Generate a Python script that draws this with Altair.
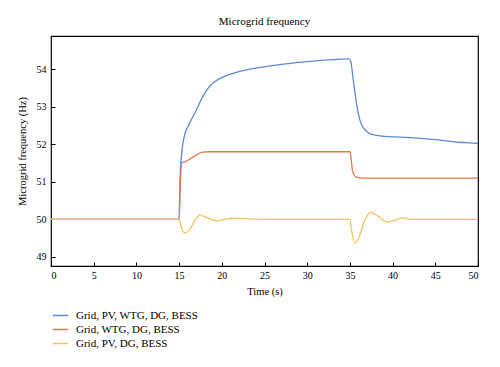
import altair as alt
import pandas as pd

series_names = ["Grid, PV, WTG, DG, BESS", "Grid, WTG, DG, BESS", "Grid, PV, DG, BESS"]
series_colors = ["#5b8ad6", "#e8754a", "#f6c15a"]

blue_t = [0, 15, 15.1, 15.3, 15.6, 16.1, 16.9, 17.8, 18.6, 19.4, 20.5, 22, 23.3, 25, 27.2, 29, 31, 33, 34.9,
          35.1, 35.4, 35.7, 36.0, 36.4, 36.8, 37.2, 38, 39, 40.9, 43, 45, 47, 50]
blue_f = [50, 50, 51.0, 51.75, 52.2, 52.5, 52.85, 53.28, 53.55, 53.7, 53.82, 53.93, 54.0, 54.06, 54.13, 54.18,
          54.22, 54.25, 54.27, 54.2, 53.7, 53.2, 52.8, 52.5, 52.38, 52.3, 52.24, 52.21, 52.19, 52.16, 52.12, 52.07, 52.02]

orange_t = [0, 15, 15.15, 15.3, 15.7, 16.5, 17.2, 17.8, 18.5, 35, 35.15, 35.3, 35.6, 36, 36.5, 50]
orange_f = [50, 50, 51.0, 51.52, 51.53, 51.64, 51.74, 51.79, 51.8, 51.8, 51.6, 51.3, 51.15, 51.11, 51.1, 51.1]

yellow_t = [0, 15, 15.3, 15.7, 16.2, 16.8, 17.45, 18.2, 19.4, 20.3, 21.3, 22.5, 25, 35, 35.2, 35.6, 36.1, 36.7,
            37.4, 38.2, 39.3, 40.2, 41.2, 42.2, 50]
yellow_f = [50, 50, 49.75, 49.64, 49.72, 49.95, 50.12, 50.05, 49.96, 50.0, 50.03, 50.02, 50, 50, 49.7, 49.37,
            49.55, 49.95, 50.18, 50.1, 49.93, 49.97, 50.04, 50.0, 50.0]

rows = []
for name, ts, fs in zip(series_names, [blue_t, orange_t, yellow_t], [blue_f, orange_f, yellow_f]):
    for t, f in zip(ts, fs):
        rows.append({"t": t, "f": f, "series": name})
df = pd.DataFrame(rows)

FONT = "Liberation Serif"

chart = alt.Chart(df).mark_line(strokeWidth=1.3, interpolate="monotone").encode(
    x=alt.X("t:Q", title="Time (s)",
            scale=alt.Scale(domain=[0, 50], nice=False),
            axis=alt.Axis(values=list(range(0, 51, 5)), grid=False, domain=False,
                          offset=-4, tickSize=4, tickColor="black", labelPadding=4,
                          labelFont=FONT, titleFont=FONT,
                          labelFontSize=10, titleFontSize=10.5, titleFontWeight="normal",
                          labelColor="black", titleColor="black", titlePadding=6)),
    y=alt.Y("f:Q", title="Microgrid frequency (Hz)",
            scale=alt.Scale(domain=[48.76, 54.88], nice=False, zero=False),
            axis=alt.Axis(values=[49, 50, 51, 52, 53, 54], grid=False, domain=False,
                          offset=-4, tickSize=4, tickColor="black", labelPadding=5,
                          labelFont=FONT, titleFont=FONT,
                          labelFontSize=10, titleFontSize=10.5, titleFontWeight="normal",
                          labelColor="black", titleColor="black", titlePadding=9)),
    color=alt.Color("series:N", title=None,
                    scale=alt.Scale(domain=series_names, range=series_colors),
                    legend=alt.Legend(orient="none", legendX=1, legendY=271, direction="vertical",
                                      symbolType="stroke", symbolSize=240, symbolStrokeWidth=1.5,
                                      labelFont=FONT, labelFontSize=11, labelColor="black", rowPadding=0,
                                      labelOffset=7)),
    order=alt.Order("series:N"),
).properties(
    width=427, height=230,
    title=alt.TitleParams("Microgrid frequency", font=FONT, fontSize=11, fontWeight="normal", color="black",
                          anchor="middle", offset=9),
    autosize=alt.AutoSizeParams(type="none"),
    padding={"left": 43, "top": 28, "right": 14, "bottom": 93},
).configure(font=FONT).configure_view(stroke="black", strokeWidth=1.2)

chart.save("out.html", embed_options={"renderer": "svg", "actions": False})
